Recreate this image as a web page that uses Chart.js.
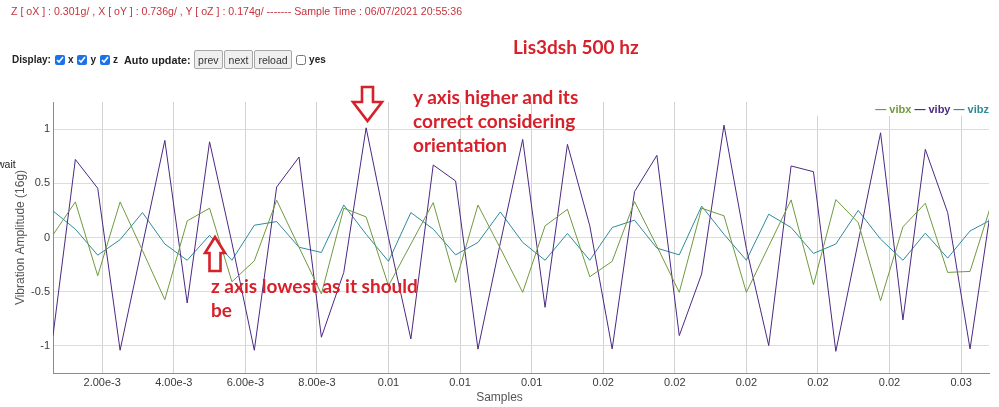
<!DOCTYPE html>
<html lang="en">
<head>
<meta charset="UTF-8">
<title>Lis3dsh 500 hz - vibration</title>
<script src="https://cdn.jsdelivr.net/npm/chart.js"></script>
<style>
  * { box-sizing: border-box; margin: 0; padding: 0; }
  html, body { width: 999px; height: 407px; overflow: hidden; background: #fff; }
  body { position: relative; font-family: 'Liberation Sans', Arial, sans-serif; }
  #chart { position: absolute; left: 0; top: 0; }
  .abs { position: absolute; white-space: nowrap; }
  .status { left: 11px; top: 5px; font-size: 10.6px; line-height: 12px; color: #c8323c; }
  .controls { left: 12px; top: 50px; height: 19px; display: flex; align-items: center;
    font-size: 10px; font-weight: bold; color: #222; }
  .controls input[type=checkbox] { width: 10px; height: 10px; accent-color: #1a73e8; margin: 0 3px 0 4px; }
  .controls button { font: 10.5px 'Liberation Sans', Arial, sans-serif; height: 19px; padding: 0 3.5px;
    border: 1px solid #a8a8a8; border-radius: 2px; background: #efefef; color: #333; margin-left: 1px; }
  .wait { left: -3px; top: 158px; font-size: 10.5px; line-height: 12px; color: #222; }
  .legend { top: 102px; right: 10px; width: 220px; height: 14px; background: #fff; text-align: right;
    font-size: 11px; font-weight: bold; line-height: 14px; }
  .xtitle { left: 0; width: 999px; top: 390px; text-align: center; font-size: 12px; line-height: 14px; color: #555; }
  .note { font-family: Lato, 'Open Sans', sans-serif; font-weight: bold; font-size: 19px; line-height: 24px; color: #d7202a; }
  svg.arrows { position: absolute; left: 0; top: 0; }
</style>
</head>
<body>
  <canvas id="chart" width="999" height="407"></canvas>

  <div class="abs status">Z [ oX ] : 0.301g/ , X [ oY ] : 0.736g/ , Y [ oZ ] : 0.174g/ ------- Sample Time : 06/07/2021 20:55:36</div>

  <div class="abs controls">
    <span>Display:</span>
    <input type="checkbox" checked><span>x</span>
    <input type="checkbox" checked><span>y</span>
    <input type="checkbox" checked><span>z</span>
    <span style="margin-left:6px; font-size:10.8px">Auto update:</span>
    <button style="margin-left:3px">prev</button><button>next</button><button>reload</button>
    <input type="checkbox"><span>yes</span>
  </div>

  <div class="abs wait">wait</div>
  <div class="abs legend" id="legend"></div>
  <div class="abs xtitle">Samples</div>

  <div class="abs note" style="left:513px; top:35px;">Lis3dsh 500 hz</div>
  <div class="abs note" style="left:413px; top:85px;">y axis higher and its<br>correct considering<br>orientation</div>
  <div class="abs note" style="left:211px; top:274px;">z axis lowest as it should<br>be</div>

  <svg class="arrows" width="999" height="407">
    <path d="M362,87 L373,87 L373,102 L382,102 L367.5,121 L353,102 L362,102 Z" fill="#fff" stroke="#d7202a" stroke-width="2.6" stroke-linejoin="miter"/>
    <path d="M215,237 L225,253 L220.5,253 L220.5,271 L209.5,271 L209.5,253 L205,253 Z" fill="#fff" stroke="#d7202a" stroke-width="2.6" stroke-linejoin="miter"/>
  </svg>

  <script>
    // sample times (s), one every 0.625 ms
    const samples = [
      0.000625, 0.00125, 0.001875, 0.0025, 0.003125, 0.00375, 0.004375, 0.005, 0.005625, 0.00625,
      0.006875, 0.0075, 0.008125, 0.00875, 0.009375, 0.01, 0.010625, 0.01125, 0.011875, 0.0125,
      0.013125, 0.01375, 0.014375, 0.015, 0.015625, 0.01625, 0.016875, 0.0175, 0.018125, 0.01875,
      0.019375, 0.02, 0.020625, 0.02125, 0.021875, 0.0225, 0.023125, 0.02375, 0.024375, 0.025,
      0.025625, 0.02625, 0.026875
    ];

    const vibx = [
      0.025, 0.328, -0.353, 0.328, -0.12, -0.574, 0.153, 0.27, -0.408, -0.215,
      0.344, -0.09, -0.52, 0.27, 0.19, -0.445, -0.06, 0.322, -0.414, 0.3,
      -0.1, -0.506, 0.107, 0.26, -0.362, -0.22, 0.331, -0.08, -0.506, 0.27,
      0.2, -0.506, -0.08, 0.347, -0.436, 0.35, 0.138, -0.583, 0.098, 0.316,
      -0.322, -0.313, 0.34
    ];
    const viby = [
      -0.905, 0.72, 0.454, -1.04, -0.07, 0.896, -0.604, 0.883, -0.05, -1.04,
      0.466, 0.742, -0.92, -0.322, 1.012, 0.0, -0.936, 0.669, 0.521, -1.03,
      -0.05, 0.905, -0.644, 0.859, 0.107, -1.028, 0.423, 0.758, -0.905, -0.337,
      1.037, -0.1, -0.997, 0.66, 0.607, -1.05, -0.04, 0.966, -0.76, 0.813,
      0.23, -1.028, 0.36
    ];
    const vibz = [
      0.245, 0.077, -0.163, -0.02, 0.23, -0.06, -0.21, 0.02, -0.21, 0.113,
      0.147, -0.09, -0.138, 0.3, 0.03, -0.22, 0.23, 0.077, -0.16, -0.046,
      0.236, -0.045, -0.21, 0.037, -0.21, 0.092, 0.16, -0.098, -0.16, 0.29,
      0.03, -0.21, 0.215, 0.092, -0.147, -0.06, 0.25, -0.015, -0.21, 0.04,
      -0.19, 0.06, 0.17
    ];

    const seriesNames = ['vibx', 'viby', 'vibz'];
    const seriesValues = [vibx, viby, vibz];
    const seriesColors = ['#6f9a3f', '#4b2883', '#2e8b9a'];

    const xTickValues = [0.002, 0.004, 0.006, 0.008, 0.010, 0.012, 0.014, 0.016, 0.018, 0.020, 0.022, 0.024, 0.026];
    const xTickLabels = ['2.00e-3', '4.00e-3', '6.00e-3', '8.00e-3', '0.01', '0.01', '0.01', '0.02', '0.02', '0.02', '0.02', '0.02', '0.03'];
    const yTickValues = [1, 0.5, 0, -0.5, -1];
    const yTickLabels = ['1', '0.5', '0', '-0.5', '-1'];

    const X_MIN = 0.000625, X_MAX = 0.02678;
    const Y_MIN = -1.25, Y_MAX = 1.25;

    // legend like the dygraphs one, top right inside the plot
    document.getElementById('legend').innerHTML = seriesNames
      .map((n, i) => `<span style="color:${seriesColors[i]}">&mdash; ${n}</span>`)
      .join(' ');

    const datasets = seriesNames.map((name, i) => ({
      label: name,
      data: samples.map((x, k) => ({ x, y: seriesValues[i][k] })),
      borderColor: seriesColors[i],
      backgroundColor: seriesColors[i],
      borderWidth: 1,
      pointRadius: 0,
      tension: 0,
      fill: false,
    }));

    const tickFont = { family: "'Liberation Sans', Arial, sans-serif", size: 11 };

    new Chart(document.getElementById('chart'), {
      type: 'line',
      data: { datasets },
      options: {
        responsive: false,
        animation: false,
        layout: { padding: { top: 102, right: 10, left: 0, bottom: 0 } },
        plugins: {
          legend: { display: false },
          tooltip: { enabled: false },
        },
        scales: {
          x: {
            type: 'linear',
            min: X_MIN,
            max: X_MAX,
            afterFit: s => { s.height = 34; },
            afterBuildTicks: s => { s.ticks = xTickValues.map(v => ({ value: v })); },
            ticks: {
              autoSkip: false,
              maxRotation: 0,
              padding: 3,
              color: '#3a3a3a',
              font: tickFont,
              callback: v => xTickLabels[xTickValues.indexOf(v)],
            },
            grid: { color: '#d2d2d2', drawTicks: false },
            border: { color: '#8c8c8c' },
          },
          y: {
            type: 'linear',
            min: Y_MIN,
            max: Y_MAX,
            afterFit: s => { s.width = 53; },
            afterBuildTicks: s => { s.ticks = yTickValues.map(v => ({ value: v })); },
            ticks: {
              padding: 3,
              color: '#3a3a3a',
              font: tickFont,
              callback: v => yTickLabels[yTickValues.indexOf(v)],
            },
            grid: { color: '#dcdcdc', drawTicks: false },
            border: { color: '#8c8c8c' },
            title: {
              display: true,
              text: 'Vibration Amplitude (16g)',
              color: '#555',
              font: { family: "'Liberation Sans', Arial, sans-serif", size: 12 },
              padding: { top: 13, bottom: 0 },
            },
          },
        },
      },
    });
  </script>
</body>
</html>
